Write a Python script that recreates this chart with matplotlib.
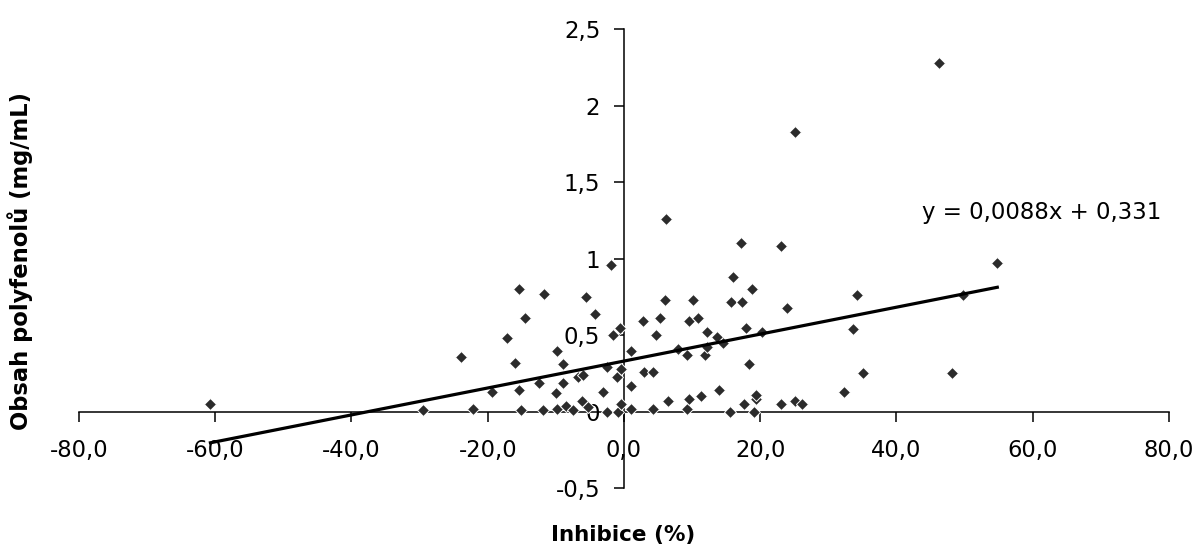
import numpy as np
import matplotlib.pyplot as plt

plt.rcParams['font.family'] = ['DejaVu Sans']

# inhibice (%) a obsah polyfenolu (mg/mL)
inhibice = [-60.7, -29.5, -23.9, -22.2, -19.3, -17.2, -16.0, -15.4, -15.4, -15.1,
            -14.5, -12.5, -11.9, -11.8, -10.0, -9.8, -9.0, -8.9, -9.9, -8.5,
            -7.5, -6.8, -6.0, -6.1, -5.5, -5.3, -4.3, -3.1, -2.5, -2.5,
            -1.9, -1.6, -1.0, -0.9, -0.6, -0.5, -0.4, 1.1, 1.1, 1.1,
            2.8, 2.9, 4.3, 4.3, 4.7, 5.3, 6.0, 6.2, 6.5, 8.0,
            9.2, 9.2, 9.5, 9.5, 10.1, 10.8, 11.3, 11.9, 12.2, 12.2,
            13.7, 13.9, 14.6, 15.5, 15.7, 16.0, 17.2, 17.3, 17.6, 17.9,
            18.3, 18.8, 19.1, 19.4, 19.4, 20.3, 23.0, 23.1, 23.9, 25.1,
            25.1, 26.1, 32.3, 33.6, 34.2, 35.1, 46.2, 48.2, 49.8, 54.8]
polyfenoly = [0.05, 0.01, 0.36, 0.02, 0.13, 0.48, 0.32, 0.80, 0.14, 0.01,
              0.61, 0.19, 0.01, 0.77, 0.12, 0.40, 0.31, 0.19, 0.02, 0.04,
              0.01, 0.23, 0.24, 0.07, 0.75, 0.03, 0.64, 0.13, 0.29, 0.00,
              0.96, 0.50, 0.23, 0.00, 0.55, 0.28, 0.05, 0.40, 0.17, 0.02,
              0.59, 0.26, 0.26, 0.02, 0.50, 0.61, 0.73, 1.26, 0.07, 0.41,
              0.37, 0.02, 0.59, 0.08, 0.73, 0.61, 0.10, 0.37, 0.42, 0.52,
              0.49, 0.14, 0.45, 0.00, 0.72, 0.88, 1.10, 0.72, 0.05, 0.55,
              0.31, 0.80, 0.00, 0.08, 0.11, 0.52, 1.08, 0.05, 0.68, 1.83,
              0.07, 0.05, 0.13, 0.54, 0.76, 0.25, 2.28, 0.25, 0.76, 0.97]

# trend z Excelu
k = 0.0088
q = 0.331
x_ticks = [-80, -60, -40, -20, 0, 20, 40, 60, 80]
y_ticks = [-0.5, 0, 0.5, 1, 1.5, 2, 2.5]

fig = plt.figure(figsize=(11.96, 5.47), dpi=100)
ax = fig.add_axes([0.066, 0.1075, 0.9114, 0.8391])

ax.plot(inhibice, polyfenoly, 'D', color='#2b2b2b', markersize=6.2,
        markeredgecolor='white', markeredgewidth=0.7, zorder=3)

xl = np.array([min(inhibice), max(inhibice)])
ax.plot(xl, k * xl + q, '-', color='black', lw=2.3, zorder=4)

ax.set_xlim(-80, 80)
ax.set_ylim(-0.5, 2.5)
ax.spines['left'].set_position(('data', 0))
ax.spines['bottom'].set_position(('data', 0))
ax.spines['top'].set_visible(False)
ax.spines['right'].set_visible(False)
for s in ['left', 'bottom']:
    ax.spines[s].set_linewidth(1.1)
    ax.spines[s].set_zorder(2)

ax.set_xticks(x_ticks)
ax.set_xticklabels([('%.1f' % v).replace('.', ',') for v in x_ticks])
ax.set_yticks(y_ticks)
ax.set_yticklabels([('%g' % v).replace('.', ',') for v in y_ticks])
ax.tick_params(axis='x', direction='out', length=7, width=1.1, pad=13, labelsize=16.3)
ax.tick_params(axis='y', direction='out', length=7, width=1.1, pad=10, labelsize=16.5)
ax.patch.set_visible(False)

ax.text(922 / 1196, 1 - 213 / 547, 'y = 0,0088x + 0,331', transform=fig.transFigure,
        fontsize=16.5, ha='left', va='center')

fig.text(623.5 / 1196, 1 - 535 / 547, 'Inhibice (%)', fontsize=15.5,
         fontweight='bold', ha='center', va='center')
fig.text(20 / 1196, 1 - 261 / 547, 'Obsah polyfenolů (mg/mL)', fontsize=16.3,
         fontweight='bold', rotation=90, ha='center', va='center')

fig.savefig('out.png', dpi=100)
